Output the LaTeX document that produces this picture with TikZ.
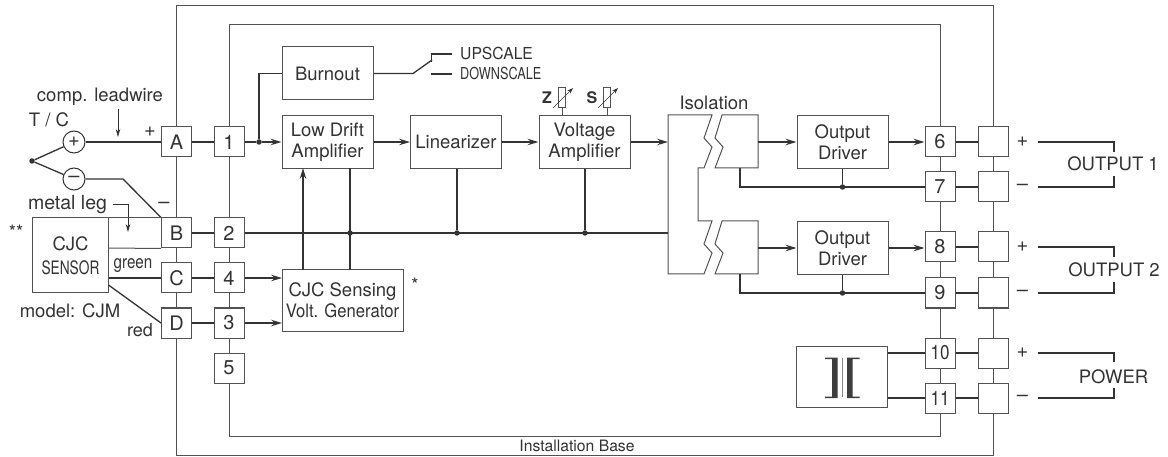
\documentclass[tikz,border=0pt]{standalone}
\usepackage{fontspec}
\setmainfont{TeX Gyre Heros}
\usepackage{graphicx}
\usetikzlibrary{positioning,arrows.meta}
\definecolor{ink}{gray}{0.2}
\tikzstyle{frame}=[draw=ink!85, line width=1pt, inner sep=0pt]
\tikzstyle{term}=[draw=ink!85, fill=white, line width=1pt, minimum size=30pt, inner sep=0pt, text=ink, font=\fontsize{20}{22}\selectfont]
\tikzstyle{int}=[draw=ink!85, fill=white, line width=1pt, minimum width=91pt, minimum height=53pt, inner sep=0pt, align=center, text=ink]
\tikzstyle{txt}=[inner sep=0pt, text=ink, align=center]
\tikzstyle{wire}=[draw=ink, line width=1.3pt]
\tikzstyle{dot}=[circle, fill=ink, inner sep=0pt, minimum size=5.5pt]
\tikzstyle{lead}=[circle, draw=ink, fill=white, line width=1pt, minimum size=22pt, inner sep=0pt, text=ink, font=\fontsize{20}{20}\selectfont]
\newcommand{\narrow}[2]{\scalebox{#1}[1]{#2}}
\begin{document}
\begin{tikzpicture}[x=1pt,y=-1pt,>={Stealth[length=11pt,width=6.5pt,inset=4pt]},font=\fontsize{18.5}{21}\selectfont]
\useasboundingbox (0,0) rectangle (1168,457);

% base and module frames
\node[frame, minimum width=817pt, minimum height=449pt] at (585,230.5) (base) {};
\node[frame, minimum width=711pt, minimum height=411pt] at (585,230.5) (module) {};
\node[txt, font=\fontsize{15.7}{18}\selectfont] at (577,446) (baselabel) {Installation Base};

% terminals, left side
\node[term] at (176.5,142) (tA) {A};
\node[term, below of = tA, node distance = 91pt] (tB) {B};
\node[term, below of = tB, node distance = 45pt] (tC) {C};
\node[term, below of = tC, node distance = 45pt] (tD) {D};
\node[term, right of = tA, node distance = 52.5pt] (t1) {1};
\node[term, right of = tB, node distance = 52.5pt] (t2) {2};
\node[term, right of = tC, node distance = 52.5pt] (t4) {4};
\node[term, right of = tD, node distance = 52.5pt] (t3) {3};
\node[term, below of = t3, node distance = 45pt] (t5) {5};

% terminals, right side
\node[term] at (940,142) (t6) {6};
\node[term, below of = t6, node distance = 45pt] (t7) {7};
\node[term, below of = t7, node distance = 60pt] (t8) {8};
\node[term, below of = t8, node distance = 46pt] (t9) {9};
\node[term, below of = t9, node distance = 60pt] (t10) {\narrow{.85}{10}};
\node[term, below of = t10, node distance = 45pt] (t11) {\narrow{.85}{11}};
\node[term, right of = t6, node distance = 53pt] (o6) {};
\node[term, right of = t7, node distance = 53pt] (o7) {};
\node[term, right of = t8, node distance = 53pt] (o8) {};
\node[term, right of = t9, node distance = 53pt] (o9) {};
\node[term, right of = t10, node distance = 53pt] (o10) {};
\node[term, right of = t11, node distance = 53pt] (o11) {};

% blocks
\node[int] at (327.5,142) (drift) {Low Drift\\Amplifier};
\node[int, above of = drift, node distance = 68.5pt] (burnout) {Burnout};
\node[int, right of = drift, node distance = 128.5pt] (linear) {Linearizer};
\node[int, right of = linear, node distance = 128.5pt] (volt) {Voltage\\Amplifier};
\node[int, minimum width=121pt, minimum height=61pt] at (342.5,300.5) (cjc) {CJC Sensing\\\narrow{.9}{Volt. Generator}};
\node[int] at (842.5,142) (drv1) {Output\\Driver};
\node[int, below of = drv1, node distance = 106pt] (drv2) {Output\\Driver};
\node[int, minimum height=61pt] at (841.5,376.5) (psu) {};

% input side
\node[dot] at (32,161) (tc) {};
\node[lead] at (74,142) (pos) {+};
\node[lead] at (74,179) (neg) {\textendash};
\node[txt] at (49,120) (tclabel) {T / C};
\node[txt] at (100,97) (leadlabel) {comp. leadwire};
\node[txt, font=\fontsize{20}{22}\selectfont] at (150,132) (pluslabel) {+};
\node[txt, font=\fontsize{20}{22}\selectfont] at (164,205) (minuslabel) {\textendash};
\node[txt, font=\fontsize{19.5}{22}\selectfont] at (67.5,205) (leglabel) {metal leg};
\node[int, minimum width=76pt, minimum height=75pt] at (70.5,255.5) (sensor) {CJC\\[3pt]\narrow{.74}{SENSOR}};
\node[txt] at (16,232) (stars) {**};
\node[txt] at (415,285) (star) {*};
\node[txt] at (133,266) (green) {\narrow{.82}{green}};
\node[txt, font=\fontsize{18}{20}\selectfont] at (140,330) (red) {red};
\node[txt] at (70,311) (model) {model: CJM};

\draw[wire] (tc) -- (pos);
\draw[wire] (tc) -- (neg);
\draw[wire] (pos) -- (tA);
\coordinate (bend) at (123,179);
\draw[wire] (neg) -- (bend) -- (tB.north west);
\coordinate (leadA) at (118,109);
\coordinate (leadB) at (118,137);
\draw[-{Stealth[length=8pt,width=4.5pt,inset=2.5pt]}, line width=0.7pt, draw=ink] (leadA) -- (leadB);
\coordinate (legA) at (113,204);
\coordinate (legB) at (128,232);
\draw[-{Stealth[length=8pt,width=4.5pt,inset=2.5pt]}, line width=0.7pt, draw=ink] (legA) -| (legB);
\draw[frame] (sensor.north east) -- (tB.north west);
\coordinate (legC) at (108.5,248);
\draw[frame] (legC) -- (tB.south west);
\coordinate (sensC) at (108.5,278);
\draw[wire] (sensC) -- (tC);
\coordinate (sensD) at (108.5,285);
\draw[wire] (sensD) -- (tD.west);
\draw[wire] (tA) -- (t1);
\draw[wire] (tB) -- (t2);
\draw[wire] (tC) -- (t4);
\draw[wire] (tD) -- (t3);

% low drift and burnout
\node[dot, right of = t1, node distance = 30pt] (split) {};
\draw[wire] (t1) -- (split);
\draw[wire,->] (split) -- (drift);
\draw[wire] (split) |- (burnout);
\coordinate (swA) at (413,73.5);
\coordinate (swB) at (432,60);
\coordinate (swC) at (431.5,62);
\coordinate (swD) at (431.5,54);
\coordinate (swE) at (452,54);
\coordinate (swF) at (431,74);
\coordinate (swG) at (452,74);
\draw[wire] (burnout) -- (swA) -- (swB);
\draw[wire] (swC) -- (swD) -- (swE);
\draw[wire] (swF) -- (swG);
\node[txt, anchor=west, font=\fontsize{16.5}{18}\selectfont] at (460,53) (up) {\narrow{.95}{UPSCALE}};
\node[txt, anchor=west, font=\fontsize{16.5}{18}\selectfont] at (460,73.5) (down) {\narrow{.77}{DOWNSCALE}};

% signal path
\draw[wire,->] (drift) -- (linear);
\draw[wire,->] (linear) -- (volt);
\coordinate (isoin) at (668,142);
\draw[wire,->] (volt) -- (isoin);
\coordinate (cjcA) at (303,270);
\coordinate (cjcB) at (303,168);
\draw[wire,->] (cjcA) -- (cjcB);
\coordinate (cjcC) at (350,270);
\coordinate (cjcD) at (350,168);
\draw[wire] (cjcC) -- (cjcD);
\coordinate (isoC) at (668,233);
\draw[wire] (t2) -- (isoC);
\node[dot] at (350,233) (gnd1) {};
\node[dot] at (457,233) (gnd2) {};
\node[dot] at (585,233) (gnd3) {};
\draw[wire] (gnd2) -- (gnd2 |- linear.south);
\draw[wire] (gnd3) -- (gnd3 |- volt.south);
\coordinate (cjcE) at (282,278);
\coordinate (cjcF) at (282,323);
\draw[wire,->] (t4) -- (cjcE);
\draw[wire,->] (t3) -- (cjcF);

% zero and span trimmers
\node[draw=ink!85, fill=white, line width=1pt, minimum width=7.5pt, minimum height=20pt, inner sep=0pt] at (562,98) (trimZ) {};
\node[draw=ink!85, fill=white, line width=1pt, minimum width=7.5pt, minimum height=20pt, inner sep=0pt] at (607,98) (trimS) {};
\draw[frame] (trimZ) -- (trimZ |- volt.north);
\draw[frame] (trimS) -- (trimS |- volt.north);
\coordinate (zA) at (553,108);
\coordinate (zB) at (573,88);
\coordinate (sA) at (598,108);
\coordinate (sB) at (618,88);
\draw[-{Stealth[length=6pt,width=4pt]}, line width=0.7pt, draw=ink] (zA) -- (zB);
\draw[-{Stealth[length=6pt,width=4pt]}, line width=0.7pt, draw=ink] (sA) -- (sB);
\node[txt, font=\fontsize{16}{18}\bfseries] at (547,98) (zlabel) {Z};
\node[txt, font=\fontsize{16}{18}\bfseries] at (592,98) (slabel) {S};

% isolation
\node[txt] at (714,103) (isolabel) {Isolation};
\draw[frame] (668,115) -- (712,115) -- (704,138) -- (712,147) -- (704,168) -- (698,168) -- (698,221) -- (712,221) -- (704,244) -- (712,253) -- (704,274) -- (668,274) -- cycle;
\draw[frame] (722,115) -- (758,115) -- (758,168) -- (715,168) -- (723,147) -- (715,138) -- cycle;
\draw[frame] (722,221) -- (758,221) -- (758,274) -- (715,274) -- (723,253) -- (715,244) -- cycle;

% output channels
\coordinate (isoA) at (758,142);
\coordinate (isoB) at (758,248);
\draw[wire,->] (isoA) -- (drv1);
\draw[wire,->] (isoB) -- (drv2);
\draw[wire,->] (drv1) -- (t6);
\draw[wire,->] (drv2) -- (t8.west |- drv2);
\coordinate (isoD) at (740,168);
\coordinate (isoE) at (740,274);
\draw[wire] (isoD) |- (t7);
\draw[wire] (isoE) |- (t9);
\node[dot] at (drv1 |- t7) (ret1) {};
\node[dot] at (drv2 |- t9) (ret2) {};
\draw[wire] (ret1) -- (drv1);
\draw[wire] (ret2) -- (drv2);

% power transformer
\draw[wire] (psu.east |- t10) -- (t10);
\draw[wire] (psu.east |- t11) -- (t11);
\fill[ink!95] (825,357.5) rectangle (837.5,359) (832,358) rectangle (837.5,397) (825,396.5) rectangle (837.5,398);
\fill[ink!95] (847,357.5) rectangle (859.5,359) (847,358) rectangle (852.5,397) (847,396.5) rectangle (859.5,398);
\fill[ink!60] (841.5,358) rectangle (843,397);

% field wiring
\draw[wire] (t6) -- (o6);
\draw[wire] (t7) -- (o7);
\draw[wire] (t8) -- (o8);
\draw[wire] (t9) -- (o9);
\draw[wire] (t10) -- (o10);
\draw[wire] (t11) -- (o11);
\foreach \n/\s in {o6/+,o7/\textendash,o8/+,o9/\textendash,o10/+,o11/\textendash}
  \node[txt, font=\fontsize{20}{22}\selectfont, right of = \n, node distance = 29.5pt] (sign\n) {\s};
\node[txt] at (1113,164) (out1) {OUTPUT 1};
\node[txt] at (1114,270) (out2) {OUTPUT 2};
\node[txt] at (1113.5,377) (power) {POWER};
\coordinate (w6) at (1038,142);
\coordinate (w7) at (1038,187);
\coordinate (w8) at (1038,247);
\coordinate (w9) at (1038,293);
\coordinate (w10) at (1038,353);
\coordinate (w11) at (1038,398);
\coordinate (e6) at (1114,152);
\coordinate (e7) at (1114,176);
\coordinate (e8) at (1114,257);
\coordinate (e9) at (1114,282);
\coordinate (e10) at (1114,362);
\coordinate (e11) at (1114,388);
\draw[wire] (w6) -| (e6);
\draw[wire] (w7) -| (e7);
\draw[wire] (w8) -| (e8);
\draw[wire] (w9) -| (e9);
\draw[wire] (w10) -| (e10);
\draw[wire] (w11) -| (e11);
\end{tikzpicture}
\end{document}
